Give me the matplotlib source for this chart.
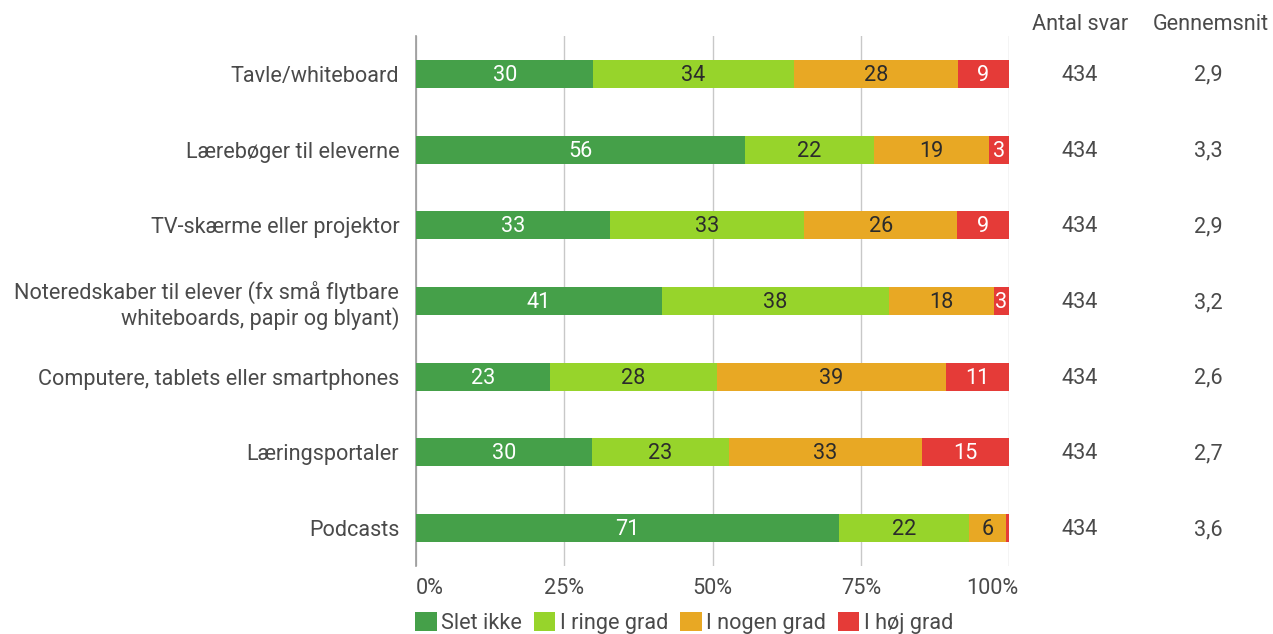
import matplotlib
matplotlib.use("Agg")
import matplotlib.pyplot as plt
from matplotlib.patches import Patch
from matplotlib.transforms import blended_transform_factory, ScaledTranslation
import numpy as np

plt.rcParams['font.family'] = ['Roboto', 'DejaVu Sans']

categories = [
    "Tavle/whiteboard",
    "Lærebøger til eleverne",
    "TV-skærme eller projektor",
    "Noteredskaber til elever (fx små flytbare\nwhiteboards, papir og blyant)",
    "Computere, tablets eller smartphones",
    "Læringsportaler",
    "Podcasts",
]
series_names = ["Slet ikke", "I ringe grad", "I nogen grad", "I høj grad"]
slet_ikke = [29.9, 55.5, 32.7, 41.4, 22.6, 29.7, 71.3]
ringe_grad = [33.8, 21.7, 32.8, 38.4, 28.1, 23.0, 21.9]
nogen_grad = [27.7, 19.4, 25.8, 17.6, 38.7, 32.7, 6.3]
hoej_grad = [8.6, 3.4, 8.7, 2.6, 10.6, 14.6, 0.5]
antal_svar = [434, 434, 434, 434, 434, 434, 434]
gennemsnit = ["2,9", "3,3", "2,9", "3,2", "2,6", "2,7", "3,6"]

colors = ["#45a049", "#97d42b", "#e8a824", "#e53b38"]
text_colors = ["white", "#2b2b2b", "#2b2b2b", "white"]
label_grey = "#4a4a4a"
fs = 15.6

fig = plt.figure(figsize=(12.73, 6.34), dpi=100)
ax = fig.add_axes([416 / 1273, 1 - 566 / 634, 593 / 1273, 530 / 634])

y = np.arange(len(categories))
left = np.zeros(len(categories))
for vals, col, tcol in zip([slet_ikke, ringe_grad, nogen_grad, hoej_grad], colors, text_colors):
    vals = np.array(vals)
    ax.barh(y, vals, left=left, height=0.37, color=col, zorder=3)
    for yi, l, v in zip(y, left, vals):
        if v >= 2:
            ax.text(l + v / 2, yi + 0.02, f"{v:.0f}", ha="center", va="center",
                    color=tcol, fontsize=fs, zorder=4)
    left += vals

ax.set_xlim(0, 100)
ax.set_ylim(len(categories) - 0.5, -0.5)
ax.set_xticks([0, 25, 50, 75, 100])
ax.set_xticklabels(["0%", "25%", "50%", "75%", "100%"])
ax.set_yticks(y)
ax.set_yticklabels(categories)
ax.tick_params(axis="both", length=0, labelsize=fs, labelcolor=label_grey)
ax.tick_params(axis="y", pad=12)
ax.tick_params(axis="x", pad=9)
xl = ax.get_xticklabels()
xl[0].set_horizontalalignment("left")
xl[-1].set_horizontalalignment("right")
xl[-1].set_transform(xl[-1].get_transform() + ScaledTranslation(0.09, 0, fig.dpi_scale_trans))

for s in ["top", "right", "bottom"]:
    ax.spines[s].set_visible(False)
ax.spines["left"].set_color("#9a9a9a")
ax.spines["left"].set_linewidth(1.2)
ax.xaxis.grid(True, color="#c8c8c8", linewidth=1)
ax.set_axisbelow(True)

# extra columns on the right
fig.text(1080 / 1273, 1 - 25 / 634, "Antal svar", ha="center", va="center",
         fontsize=fs, color=label_grey)
fig.text(1211 / 1273, 1 - 25 / 634, "Gennemsnit", ha="center", va="center",
         fontsize=fs, color=label_grey)
trans = blended_transform_factory(fig.transFigure, ax.transData)
for yi, n, g in zip(y, antal_svar, gennemsnit):
    ax.text(1080 / 1273, yi + 0.02, str(n), transform=trans,
            ha="center", va="center", fontsize=fs, color=label_grey)
    ax.text(1208 / 1273, yi + 0.02, g, transform=trans,
            ha="center", va="center", fontsize=fs, color=label_grey)

handles = [Patch(facecolor=c, edgecolor="none") for c in colors]
fig.legend(handles, series_names, loc="center left",
           bbox_to_anchor=(415 / 1273, 1 - 623 / 634), ncol=4, frameon=False,
           fontsize=fs, handlelength=1.0, handleheight=1.0, handletextpad=0.2,
           columnspacing=0.55, borderpad=0, borderaxespad=0,
           labelcolor=label_grey)

fig.savefig("out.png", dpi=100)
